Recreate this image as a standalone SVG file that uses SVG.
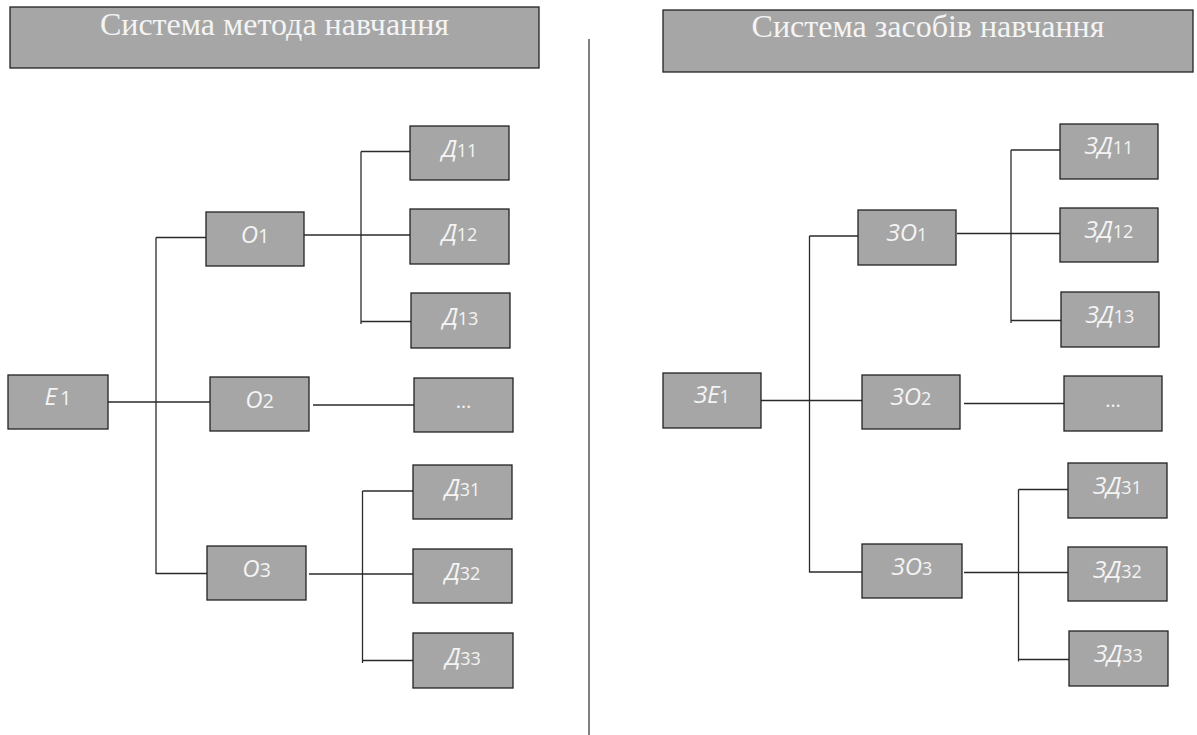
<svg xmlns="http://www.w3.org/2000/svg" width="1197" height="735" viewBox="0 0 1197 735">
<style>
.title rect{fill:#a6a6a6;stroke:#222;stroke-width:1.3}
.title text{font-family:"Liberation Serif","Times New Roman",serif;font-size:32px;fill:#f4f4f4;text-anchor:middle}
.node rect{fill:#a6a6a6;stroke:#222;stroke-width:1.3}
.node text{font-family:"Open Sans","Noto Sans",sans-serif;font-size:24px;font-style:italic;fill:#f4f4f4;text-anchor:middle}
.node .s{font-size:18px;font-style:normal}
.node .d{font-size:20px;font-style:normal}
.conn line{stroke:#2a2a2a;stroke-width:1.3}
</style>
<rect width="1197" height="735" fill="#ffffff"/>
<g id="title-left" class="title"><rect x="10" y="7" width="529" height="61"/><text x="274.5" y="35">Система метода навчання</text></g>
<g id="title-right" class="title"><rect x="663" y="10" width="530" height="62"/><text x="928" y="37">Система засобів навчання</text></g>
<line x1="589" y1="39" x2="589" y2="735" stroke="#555" stroke-width="1.5"/>
<g id="connectors" class="conn">
<line x1="156" y1="237.5" x2="156" y2="574"/>
<line x1="156" y1="237.5" x2="206" y2="237.5"/>
<line x1="106" y1="402" x2="210" y2="402"/>
<line x1="156" y1="573.5" x2="207" y2="573.5"/>
<line x1="304" y1="235" x2="410" y2="235"/>
<line x1="361" y1="151.5" x2="361" y2="324"/>
<line x1="361" y1="151.5" x2="410" y2="151.5"/>
<line x1="361" y1="321.5" x2="411" y2="321.5"/>
<line x1="313" y1="405" x2="414" y2="405"/>
<line x1="309" y1="574" x2="413" y2="574"/>
<line x1="362.5" y1="491" x2="362.5" y2="663"/>
<line x1="362.5" y1="491" x2="413" y2="491"/>
<line x1="362.5" y1="660.5" x2="413" y2="660.5"/>
<line x1="809.5" y1="236" x2="809.5" y2="572.5"/>
<line x1="809.5" y1="236" x2="858" y2="236"/>
<line x1="760" y1="400.5" x2="862" y2="400.5"/>
<line x1="809.5" y1="572" x2="862" y2="572"/>
<line x1="957" y1="233.5" x2="1060" y2="233.5"/>
<line x1="1011" y1="150" x2="1011" y2="323"/>
<line x1="1011" y1="150" x2="1060" y2="150"/>
<line x1="1011" y1="320.5" x2="1061" y2="320.5"/>
<line x1="964" y1="403.5" x2="1064" y2="403.5"/>
<line x1="964" y1="572.5" x2="1068" y2="572.5"/>
<line x1="1018.5" y1="489.5" x2="1018.5" y2="661.5"/>
<line x1="1018.5" y1="489.5" x2="1068" y2="489.5"/>
<line x1="1018.5" y1="659.5" x2="1069" y2="659.5"/>
</g>
<g id="E1" class="node"><rect x="8" y="375" width="100" height="54"/><text x="58" y="405">Е<tspan class="d" dx="3">1</tspan></text></g>
<g id="O1" class="node"><rect x="206" y="212" width="98" height="54"/><text x="255" y="243">О<tspan class="d">1</tspan></text></g>
<g id="O2" class="node"><rect x="210" y="377" width="99" height="54"/><text x="259.5" y="408">О<tspan class="d">2</tspan></text></g>
<g id="O3" class="node"><rect x="207" y="546" width="99" height="54"/><text x="256.5" y="577">О<tspan class="d">3</tspan></text></g>
<g id="D11" class="node"><rect x="410" y="126" width="99" height="54"/><text x="459.5" y="157">Д<tspan class="s">11</tspan></text></g>
<g id="D12" class="node"><rect x="410" y="209" width="99" height="55"/><text x="459.5" y="241">Д<tspan class="s">12</tspan></text></g>
<g id="D13" class="node"><rect x="411" y="293" width="99" height="55"/><text x="460.5" y="325">Д<tspan class="s">13</tspan></text></g>
<g id="D2x" class="node"><rect x="414" y="378" width="99" height="54"/><text x="463.5" y="408" class="d">…</text></g>
<g id="D31" class="node"><rect x="413" y="465" width="99" height="54"/><text x="462.5" y="496">Д<tspan class="s">31</tspan></text></g>
<g id="D32" class="node"><rect x="413" y="549" width="99" height="54"/><text x="462.5" y="580">Д<tspan class="s">32</tspan></text></g>
<g id="D33" class="node"><rect x="413" y="633" width="100" height="55"/><text x="463" y="665">Д<tspan class="s">33</tspan></text></g>
<g id="ZE1" class="node"><rect x="663" y="373" width="98" height="55"/><text x="712" y="403">ЗЕ<tspan class="s">1</tspan></text></g>
<g id="ZO1" class="node"><rect x="858" y="210" width="98" height="55"/><text x="907" y="241">ЗО<tspan class="s">1</tspan></text></g>
<g id="ZO2" class="node"><rect x="862" y="375" width="98" height="54"/><text x="911" y="405">ЗО<tspan class="s">2</tspan></text></g>
<g id="ZO3" class="node"><rect x="862" y="544" width="100" height="54"/><text x="912" y="575">ЗО<tspan class="s">3</tspan></text></g>
<g id="ZD11" class="node"><rect x="1060" y="124" width="98" height="55"/><text x="1109" y="154">ЗД<tspan class="s">11</tspan></text></g>
<g id="ZD12" class="node"><rect x="1060" y="208" width="98" height="54"/><text x="1109" y="238">ЗД<tspan class="s">12</tspan></text></g>
<g id="ZD13" class="node"><rect x="1061" y="292" width="98" height="55"/><text x="1110" y="323">ЗД<tspan class="s">13</tspan></text></g>
<g id="ZD2x" class="node"><rect x="1064" y="376" width="98" height="55"/><text x="1113" y="407" class="d">…</text></g>
<g id="ZD31" class="node"><rect x="1068" y="463" width="99" height="55"/><text x="1117.5" y="494">ЗД<tspan class="s">31</tspan></text></g>
<g id="ZD32" class="node"><rect x="1068" y="547" width="99" height="54"/><text x="1117.5" y="578">ЗД<tspan class="s">32</tspan></text></g>
<g id="ZD33" class="node"><rect x="1069" y="631" width="99" height="55"/><text x="1118.5" y="662">ЗД<tspan class="s">33</tspan></text></g>
</svg>
